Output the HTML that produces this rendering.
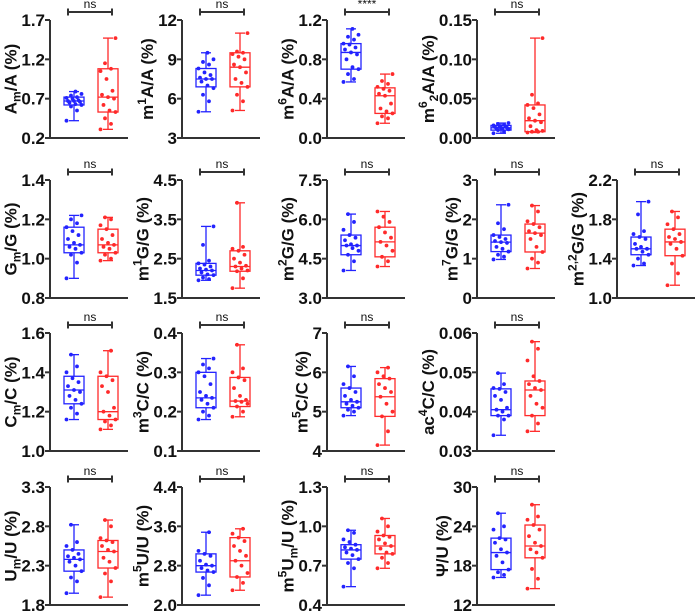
<!DOCTYPE html>
<html><head><meta charset="utf-8">
<style>
html,body{margin:0;padding:0;background:#fff;}
svg{display:block;font-family:"Liberation Sans",Arial,sans-serif;}
</style></head>
<body>
<svg id="chart" width="700" height="614" viewBox="0 0 700 614"></svg>
<script>
// ---- data ----
const panelCols = [0,1,2,3, 0,1,2,3,4, 0,1,2,3, 0,1,2,3];
const panelRows = [0,0,0,0, 1,1,1,1,1, 2,2,2,2, 3,3,3,3];
const yMins = [0.2,3,0,0, 0.8,1.5,3,0,1.0, 1.0,0.1,4,0.03, 1.8,2.0,0.4,12];
const yMaxs = [1.7,12,1.2,0.15, 1.4,4.5,7.5,3,2.2, 1.6,0.4,7,0.06, 3.3,4.4,1.3,30];
const tickLabels = [
 ["0.2","0.7","1.2","1.7"],["3","6","9","12"],["0.0","0.4","0.8","1.2"],["0.00","0.05","0.10","0.15"],
 ["0.8","1.0","1.2","1.4"],["1.5","2.5","3.5","4.5"],["3.0","4.5","6.0","7.5"],["0","1","2","3"],["1.0","1.4","1.8","2.2"],
 ["1.0","1.2","1.4","1.6"],["0.1","0.2","0.3","0.4"],["4","5","6","7"],["0.03","0.04","0.05","0.06"],
 ["1.8","2.3","2.8","3.3"],["2.0","2.8","3.6","4.4"],["0.4","0.7","1.0","1.3"],["12","18","24","30"]];
const titles = [
 [["A",""],["m","sub"],["/A (%)",""]],[["m",""],["1","sup"],["A/A (%)",""]],[["m",""],["6","sup"],["A/A (%)",""]],[["m",""],["6","sup"],["2","sub"],["A/A (%)",""]],
 [["G",""],["m","sub"],["/G (%)",""]],[["m",""],["1","sup"],["G/G (%)",""]],[["m",""],["2","sup"],["G/G (%)",""]],[["m",""],["7","sup"],["G/G (%)",""]],[["m",""],["2,2","sup"],["G/G (%)",""]],
 [["C",""],["m","sub"],["/C (%)",""]],[["m",""],["3","sup"],["C/C (%)",""]],[["m",""],["5","sup"],["C/C (%)",""]],[["ac",""],["4","sup"],["C/C (%)",""]],
 [["U",""],["m","sub"],["/U (%)",""]],[["m",""],["5","sup"],["U/U (%)",""]],[["m",""],["5","sup"],["U",""],["m","sub"],["/U (%)",""]],[["Ψ/U (%)",""]]];
const sigLabels = ["ns","ns","****","ns","ns","ns","ns","ns","ns","ns","ns","ns","ns","ns","ns","ns","ns"];
// [min, q1, median, q3, max]
const blueStats = [
 [0.42,0.62,0.67,0.72,0.79],[5.0,6.9,7.5,8.3,9.5],[0.57,0.70,0.87,0.96,1.11],[0.006,0.010,0.013,0.016,0.019],
 [0.90,1.03,1.07,1.16,1.22],[1.95,2.08,2.2,2.38,3.32],[4.05,4.65,5.0,5.4,6.2],[0.98,1.18,1.42,1.6,2.37],[1.33,1.44,1.50,1.62,1.98],
 [1.16,1.24,1.31,1.38,1.49],[0.18,0.21,0.235,0.30,0.335],[4.9,5.1,5.25,5.6,6.15],[0.034,0.039,0.0405,0.0458,0.0498],
 [1.95,2.23,2.38,2.5,2.82],[2.2,2.67,2.8,3.04,3.48],[0.54,0.75,0.82,0.86,0.97],[16.2,17.4,20.0,22.2,26.0]];
const redStats = [
 [0.31,0.53,0.72,1.08,1.47],[5.1,6.9,8.4,9.5,11.0],[0.15,0.25,0.43,0.51,0.65],[0.007,0.008,0.022,0.042,0.127],
 [0.99,1.03,1.07,1.15,1.21],[1.75,2.18,2.3,2.7,3.92],[4.2,4.57,5.14,5.7,6.3],[0.75,1.17,1.65,1.88,2.35],[1.13,1.43,1.57,1.70,1.88],
 [1.11,1.16,1.2,1.38,1.51],[0.187,0.213,0.227,0.287,0.37],[4.15,4.88,5.38,5.84,6.12],[0.035,0.039,0.0455,0.0478,0.0578],
 [1.9,2.27,2.48,2.62,2.88],[2.3,2.57,2.9,3.37,3.55],[0.68,0.79,0.85,0.93,1.06],[14.5,19.2,21.0,24.2,27.3]];
const bluePoints = [
 [0.42,0.55,0.6,0.62,0.63,0.65,0.66,0.67,0.67,0.68,0.7,0.71,0.72,0.74,0.76,0.79],
 [5.0,5.8,6.3,6.8,7.0,7.3,7.5,7.5,7.6,7.8,8.0,8.3,8.6,8.8,9.0,9.5],
 [0.57,0.6,0.65,0.7,0.72,0.8,0.85,0.87,0.9,0.92,0.95,0.96,1.0,1.03,1.05,1.11],
 [0.006,0.008,0.01,0.011,0.012,0.012,0.013,0.013,0.014,0.015,0.015,0.016,0.017,0.018,0.019],
 [0.90,0.98,1.02,1.03,1.05,1.06,1.07,1.08,1.1,1.12,1.14,1.16,1.18,1.2,1.22],
 [1.95,1.98,2.02,2.08,2.1,2.15,2.2,2.22,2.25,2.3,2.35,2.38,2.45,2.85,3.32],
 [4.05,4.4,4.65,4.8,4.9,5.0,5.0,5.05,5.2,5.3,5.4,5.6,5.9,6.2],
 [0.98,1.05,1.1,1.18,1.25,1.3,1.4,1.42,1.45,1.5,1.55,1.6,1.75,1.9,2.37],
 [1.33,1.35,1.4,1.44,1.47,1.5,1.5,1.52,1.55,1.6,1.62,1.65,1.68,1.85,1.98],
 [1.16,1.19,1.22,1.24,1.26,1.28,1.3,1.31,1.33,1.35,1.37,1.4,1.43,1.49],
 [0.18,0.19,0.2,0.21,0.22,0.23,0.235,0.24,0.25,0.27,0.29,0.3,0.31,0.32,0.335],
 [4.9,5.0,5.05,5.1,5.15,5.2,5.25,5.3,5.4,5.5,5.6,5.7,5.9,6.15],
 [0.034,0.038,0.039,0.039,0.04,0.0405,0.041,0.043,0.044,0.045,0.0458,0.046,0.047,0.0498],
 [1.95,2.1,2.15,2.23,2.3,2.35,2.38,2.4,2.42,2.45,2.5,2.55,2.6,2.82],
 [2.2,2.4,2.55,2.67,2.7,2.75,2.8,2.82,2.9,3.0,3.04,3.1,3.48],
 [0.54,0.68,0.72,0.75,0.78,0.8,0.82,0.83,0.84,0.86,0.88,0.9,0.95,0.97],
 [16.2,16.6,17.0,17.4,18.5,19.5,20.0,20.5,21.5,22.0,22.2,23.5,24.0,26.0]];
const redPoints = [
 [0.31,0.38,0.45,0.53,0.55,0.62,0.7,0.72,0.75,0.8,0.95,1.05,1.08,1.15,1.47],
 [5.1,5.8,6.3,6.9,7.2,7.5,8.0,8.4,8.6,9.0,9.2,9.4,9.5,9.6,11.0],
 [0.15,0.2,0.22,0.25,0.27,0.3,0.35,0.43,0.45,0.48,0.5,0.52,0.55,0.58,0.65],
 [0.007,0.008,0.008,0.009,0.01,0.015,0.02,0.022,0.025,0.03,0.038,0.042,0.044,0.055,0.127],
 [0.99,1.0,1.02,1.03,1.05,1.06,1.07,1.08,1.1,1.12,1.15,1.17,1.2,1.21],
 [1.75,2.0,2.18,2.2,2.25,2.3,2.32,2.4,2.5,2.6,2.7,2.75,2.8,3.92],
 [4.2,4.4,4.57,4.8,5.0,5.14,5.3,5.5,5.7,5.9,6.1,6.3],
 [0.75,0.9,1.0,1.17,1.3,1.5,1.6,1.65,1.7,1.8,1.88,1.95,2.2,2.35],
 [1.13,1.25,1.35,1.43,1.5,1.55,1.57,1.6,1.62,1.65,1.7,1.75,1.82,1.88],
 [1.11,1.13,1.15,1.16,1.18,1.2,1.22,1.3,1.33,1.36,1.38,1.4,1.51],
 [0.187,0.2,0.213,0.22,0.225,0.227,0.23,0.24,0.26,0.28,0.287,0.3,0.31,0.37],
 [4.15,4.5,4.88,5.0,5.2,5.38,5.5,5.6,5.7,5.84,5.9,6.0,6.12],
 [0.035,0.037,0.039,0.041,0.042,0.044,0.0455,0.046,0.047,0.0478,0.049,0.053,0.056,0.0578],
 [1.9,2.1,2.2,2.27,2.35,2.4,2.48,2.5,2.55,2.6,2.62,2.65,2.8,2.88],
 [2.3,2.45,2.57,2.65,2.8,2.9,3.0,3.1,3.2,3.3,3.37,3.45,3.55],
 [0.68,0.72,0.76,0.79,0.8,0.83,0.85,0.87,0.9,0.92,0.93,0.96,1.0,1.06],
 [14.5,16.0,17.5,19.2,20.0,20.5,21.0,21.5,22.5,23.5,24.2,25.0,25.5,27.3]];

// ---- layout ----
const colX = [50,182,327,477,617];
const rowTop = [20,180,333,487];
const plotH = 118, axisLen = 78;
const NS = "http://www.w3.org/2000/svg";
const svg = document.getElementById('chart');
function mk(tag, attrs, parent){
  const e = document.createElementNS(NS, tag);
  for (const k in attrs) e.setAttribute(k, attrs[k]);
  (parent||svg).appendChild(e); return e;
}
const BLUE = "#2323ff", RED = "#ff2a2a", AX = "#333";

for (let p = 0; p < panelCols.length; p++){
  const x0 = colX[panelCols[p]], top = rowTop[panelRows[p]], bot = top + plotH;
  const lo = yMins[p], hi = yMaxs[p];
  const ys = v => bot - (v - lo) / (hi - lo) * plotH;
  const g = mk('g', {});
  
  

  const ya = mk('line', {x1:x0, y1:top, x2:x0, y2:bot, stroke:AX, 'stroke-width':2}, g);
  
  
  const xa = mk('line', {x1:x0-1, y1:bot, x2:x0+axisLen, y2:bot, stroke:AX, 'stroke-width':2}, g);
  
  

  const tl = tickLabels[p];
  let maxW = 0;
  for (let i = 0; i < tl.length; i++){
    const v = lo + (hi - lo) * i / (tl.length - 1);
    const y = ys(v);
    mk('line', {x1:x0-5, y1:y, x2:x0, y2:y, stroke:AX, 'stroke-width':2}, g);
    const t = mk('text', {x:x0-5, y:y+6, 'text-anchor':'end', 'font-size':'17', 'font-weight':'bold', fill:'#111'}, g);
    t.textContent = tl[i];
    
    
    maxW = Math.max(maxW, t.getComputedTextLength());
  }

  // y title (baseline placed just left of tick labels)
  const cx = x0 - 5 - maxW - 5, cy = (top + bot) / 2;
  const tt = mk('text', {x:0, y:0, transform:`translate(${cx},${cy}) rotate(-90)`, 'text-anchor':'middle', 'font-size':'17', 'font-weight':'bold', fill:'#111'}, g);
  
  
  let shift = 0;
  for (const [s, type] of titles[p]){
    const ts = mk('tspan', {}, tt);
    let target = type === 'sup' ? -7 : type === 'sub' ? 4 : 0;
    if (target !== shift){ ts.setAttribute('dy', target - shift); shift = target; }
    if (type) ts.setAttribute('font-size', '12');
    ts.textContent = s;
  }

  // significance bracket
  const bx1 = x0 + 18, bx2 = x0 + 62, by = top - 8;
  mk('line', {x1:bx1, y1:by, x2:bx2, y2:by, stroke:AX, 'stroke-width':2}, g);
  mk('line', {x1:bx1, y1:by-3.5, x2:bx1, y2:by+3.5, stroke:AX, 'stroke-width':2}, g);
  mk('line', {x1:bx2, y1:by-3.5, x2:bx2, y2:by+3.5, stroke:AX, 'stroke-width':2}, g);
  const st = mk('text', {x:(bx1+bx2)/2, y:by-4, 'text-anchor':'middle', 'font-size':'12', fill:'#111'}, g);
  st.textContent = sigLabels[p];
  
  

  const groups = [[blueStats[p], bluePoints[p], BLUE, x0+24, 'control'], [redStats[p], redPoints[p], RED, x0+58, 'case']];
  for (const [s, pts, col, cxg, nm] of groups){
    const bg = mk('g', {stroke:col, 'stroke-width':1.3, fill:'none'}, g);
    
    
    const w = 10;
    mk('line', {x1:cxg, y1:ys(s[0]), x2:cxg, y2:ys(s[1])}, bg);
    mk('line', {x1:cxg, y1:ys(s[3]), x2:cxg, y2:ys(s[4])}, bg);
    mk('line', {x1:cxg-5, y1:ys(s[0]), x2:cxg+5, y2:ys(s[0])}, bg);
    mk('line', {x1:cxg-5, y1:ys(s[4]), x2:cxg+5, y2:ys(s[4])}, bg);
    mk('rect', {x:cxg-w, y:ys(s[3]), width:2*w, height:ys(s[1])-ys(s[3])}, bg);
    mk('line', {x1:cxg-w, y1:ys(s[2]), x2:cxg+w, y2:ys(s[2])}, bg);
    for (let i = 0; i < pts.length; i++){
      const jx = (((i*7) % 11) - 5) * 1.5;
      const c = mk('circle', {cx:cxg + jx, cy:ys(pts[i]), r:1.9, fill:col, stroke:'none'}, g);
      
      
    }
  }
}
</script>
</body></html>
